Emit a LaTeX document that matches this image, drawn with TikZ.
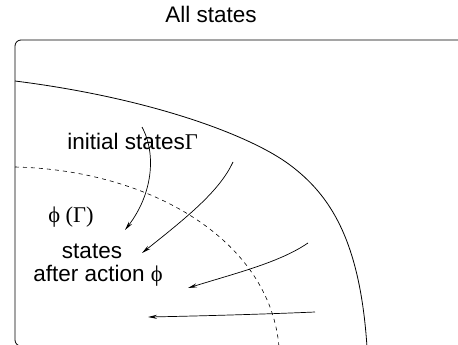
\documentclass[tikz,border=0pt]{standalone}
\usepackage{fontspec}
\setmainfont{Liberation Sans}
\newfontfamily\greco{Liberation Serif}
\usetikzlibrary{arrows.meta}
\tikzset{
  testo/.style={font=\fontsize{22.5}{26}\selectfont, inner sep=0pt, anchor=base},
  freccia/.style={-{Stealth[length=9pt,width=4pt,inset=3pt]}, line width=0.7pt},
}
\begin{document}
\begin{tikzpicture}[x=1pt,y=-1pt, line width=0.8pt]
        \useasboundingbox (0,0) rectangle (458,345);
        % --- insieme di tutti gli stati -----------------------------------
        \draw[rounded corners=6pt] (462,40) -- (15,40) -- (15,346) -- (40,346);
        \node[testo] (tutti) at (211,23) {All states};
        % --- frontiere ----------------------------------------------------
        \draw (15,81) .. controls (150,98) and (250,135) .. (290,165)
                      .. controls (330,195) and (360,240) .. (367,347);
        \draw[dash pattern=on 4pt off 4pt, line width=0.6pt]
              (15,167) .. controls (150,170) and (270,240) .. (279,347);
        % --- etichette ----------------------------------------------------
        \node[testo, anchor=base west] (iniziali) at (67,149) {initial states{\greco Γ}};
        \node[testo] (immagine) at (71,222) {{\greco ϕ (Γ)}};
        \node[testo] (dopo1) at (92,258) {states};
        \node[testo] (dopo2) at (98,281) {after action {\greco ϕ}};
        % --- azioni -------------------------------------------------------
        \coordinate (a1) at (142,127);  \coordinate (b1) at (125,230);
        \coordinate (a2) at (233,162);  \coordinate (b2) at (142,253);
        \coordinate (a3) at (308,243);  \coordinate (b3) at (188,288);
        \coordinate (a4) at (315,312);  \coordinate (b4) at (148,317);
        \draw[freccia] (a1) .. controls (157,155) and (152,195) .. (b1);
        \draw[freccia] (a2) .. controls (220,190) and (190,215) .. (b2);
        \draw[freccia] (a3) .. controls (280,262) and (240,272) .. (b3);
        \draw[freccia] (a4) .. controls (270,314) and (200,316) .. (b4);
    \end{tikzpicture}
\end{document}
